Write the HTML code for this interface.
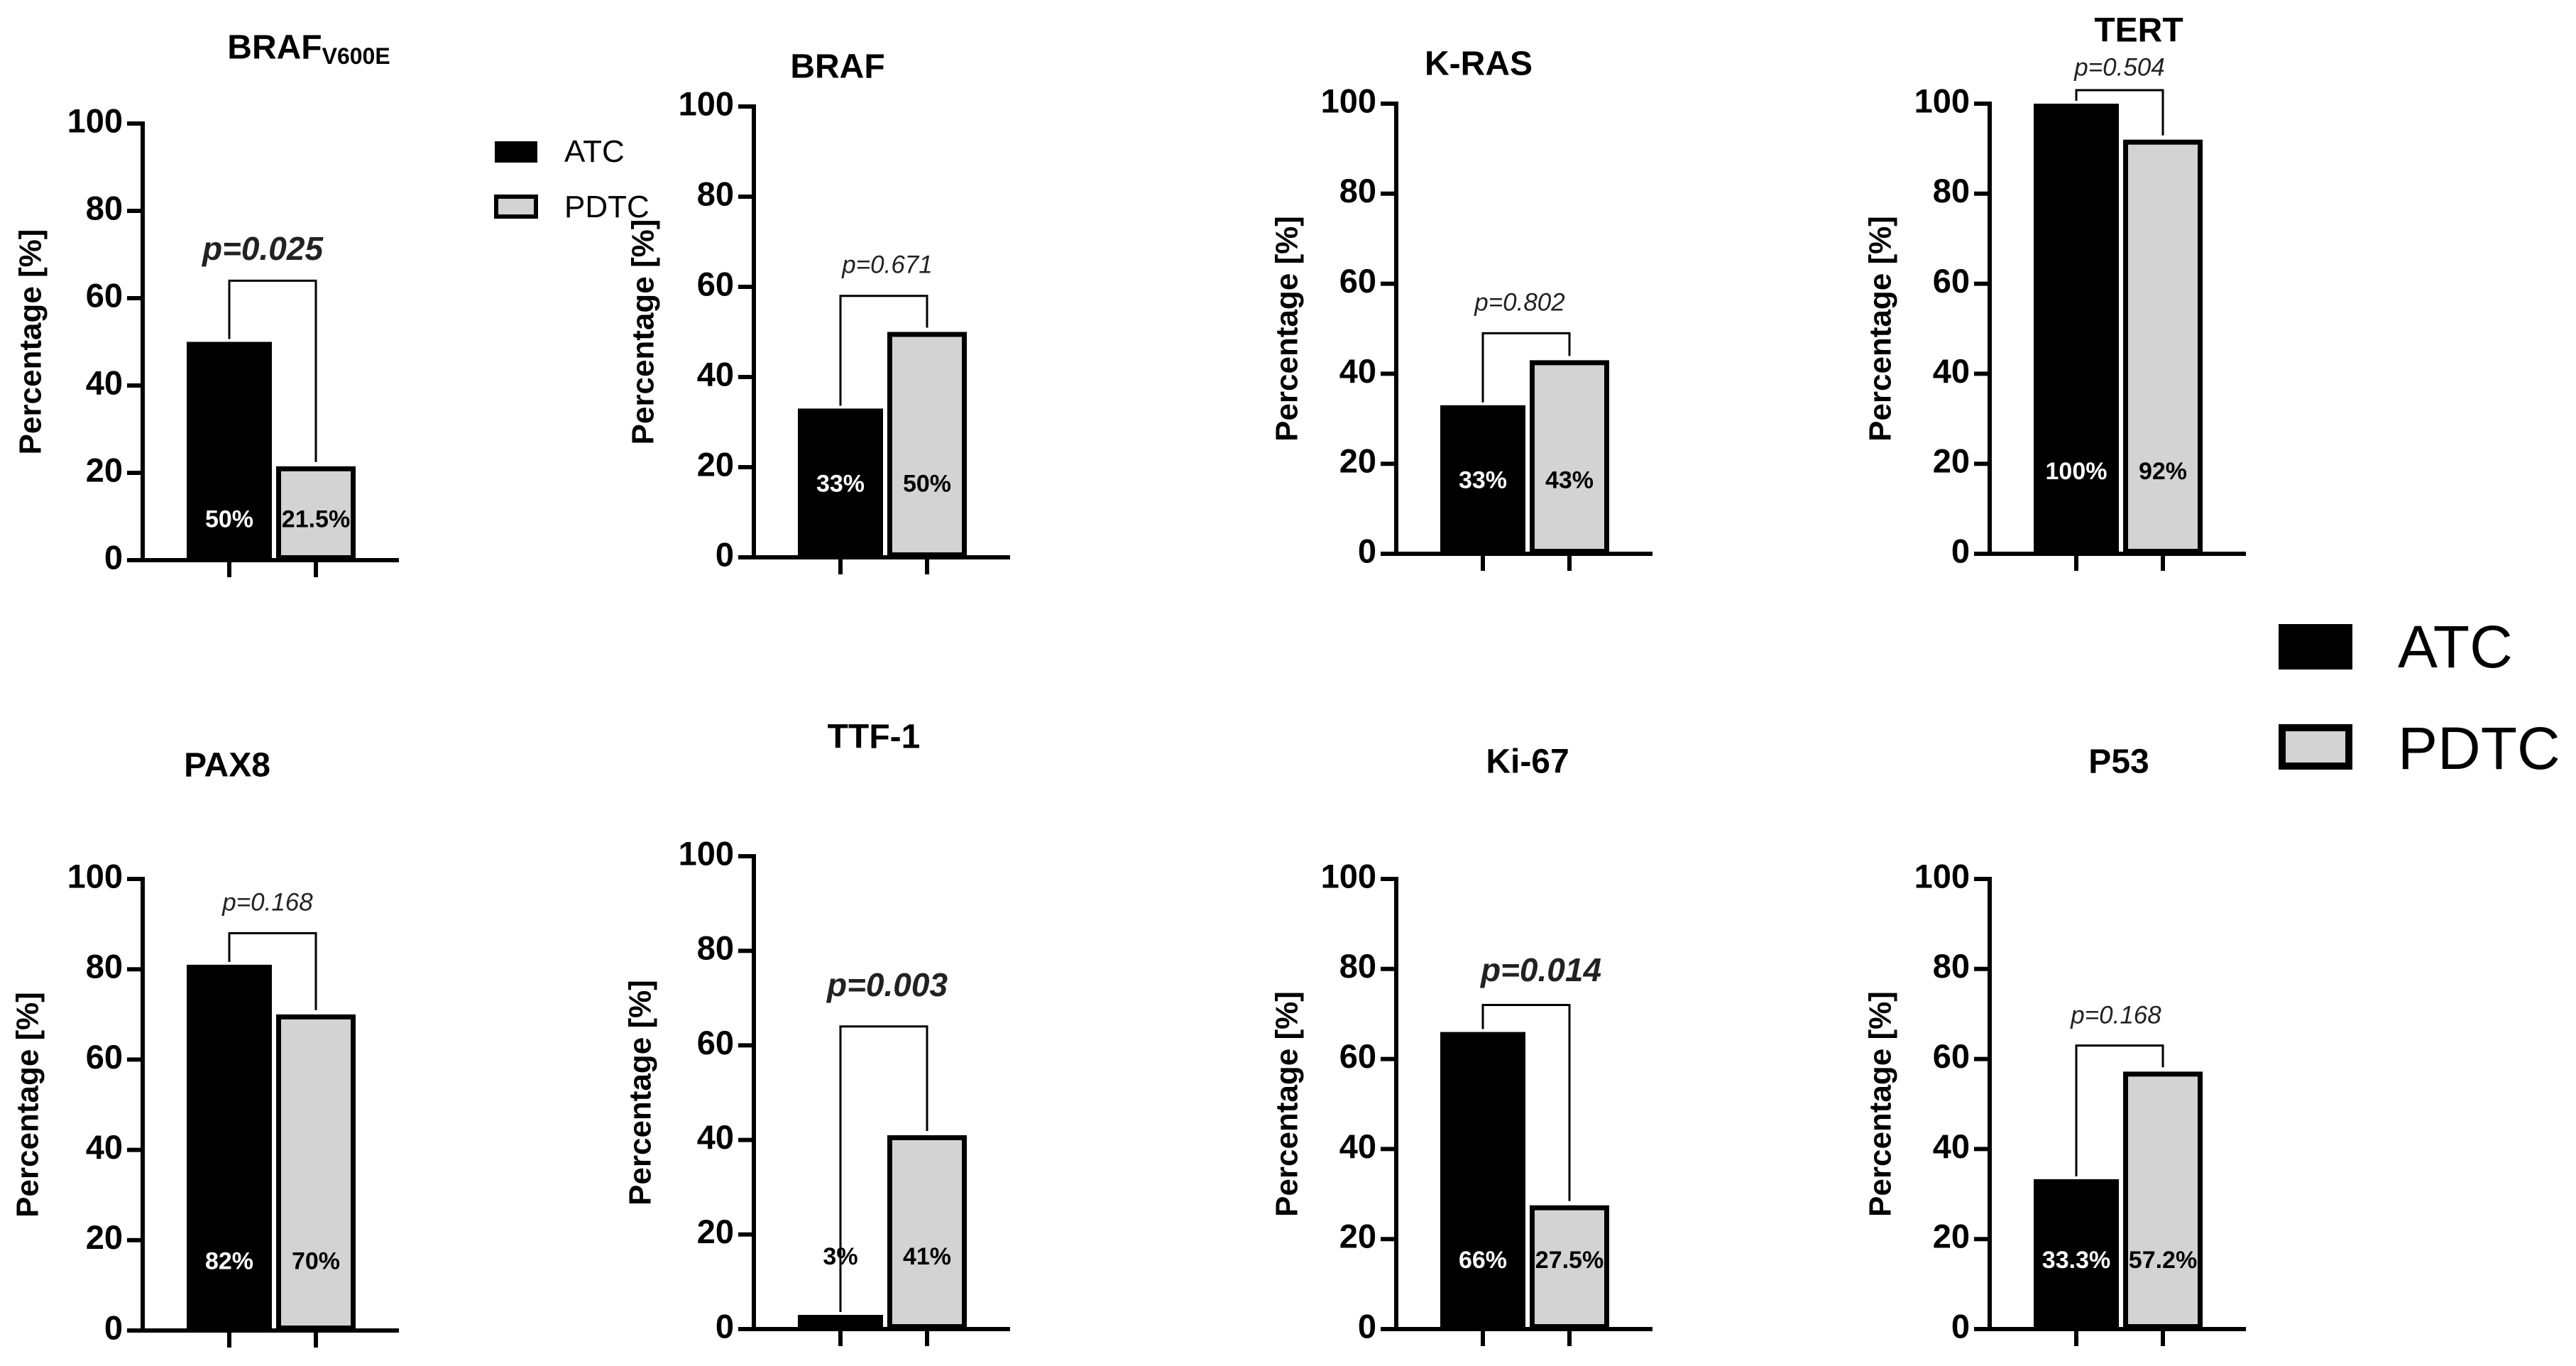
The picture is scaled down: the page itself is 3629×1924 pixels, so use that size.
<!DOCTYPE html>
<html><head><meta charset="utf-8"><style>
html,body{margin:0;padding:0;background:#fff;}
svg{display:block;font-family:"Liberation Sans",Arial,sans-serif;}
</style></head><body>
<svg id="fig" width="3629" height="1924" viewBox="0 0 3629 1924">
<g>
<rect x="697" y="199" width="60" height="30" fill="#000"/>
<text x="795" y="228" font-size="44">ATC</text>
<rect x="699" y="277" width="56" height="28" fill="#d3d3d3" stroke="#000" stroke-width="6"/>
<text x="795" y="306" font-size="44">PDTC</text>
</g>
<g>
<rect x="3210" y="879" width="104" height="64" fill="#000"/>
<text x="3378" y="940" font-size="84">ATC</text>
<rect x="3215" y="1025" width="94" height="54" fill="#d3d3d3" stroke="#000" stroke-width="10"/>
<text x="3378" y="1083" font-size="84">PDTC</text>
</g>
</svg>
<script>
const categories = ["BRAF_V600E","BRAF","K-RAS","TERT","PAX8","TTF-1","Ki-67","P53"];
const atcValues = [50,33,33,100,81,3,66,33.3];
const pdtcValues = [21.5,50,43,92,70,41,27.5,57.2];
const atcLabels = ["50%","33%","33%","100%","82%","3%","66%","33.3%"];
const pdtcLabels = ["21.5%","50%","43%","92%","70%","41%","27.5%","57.2%"];
const pValues = ["p=0.025","p=0.671","p=0.802","p=0.504","p=0.168","p=0.003","p=0.014","p=0.168"];
const pSignificant = [true,false,false,false,false,true,true,false];
const bracketLevels = [64,58,49,103,88,64,72,63];
const yTicks = [0,20,40,60,80,100];

// layout (pixels): axis x, y at 100, y at 0, title pos, ytitle x, p label pos, value-label level
const layout = [
 {ax:201,y100:174,y0:789,tx:435,ty:70,yt:46,px:370,py:354,lv:9},
 {ax:1062,y100:150,y0:785,tx:1180,ty:97,yt:909,px:1250,py:375,lv:16},
 {ax:1967,y100:146,y0:780,tx:2083,ty:93,yt:1816,px:2141,py:428,lv:16},
 {ax:2803,y100:146,y0:780,tx:3013,ty:46,yt:2652,px:2986,py:97,lv:18},
 {ax:201,y100:1238,y0:1874,tx:320,ty:1081,yt:42,px:377,py:1273,lv:15},
 {ax:1062,y100:1206,y0:1872,tx:1231,ty:1041,yt:905,px:1250,py:1391,lv:15},
 {ax:1967,y100:1238,y0:1872,tx:2152,ty:1076,yt:1816,px:2171,py:1370,lv:15},
 {ax:2803,y100:1238,y0:1872,tx:2985,ty:1076,yt:2652,px:2981,py:1432,lv:15}
];
const NS="http://www.w3.org/2000/svg";
const svg=document.getElementById('fig');
function mk(tag,attrs,parent,text){const e=document.createElementNS(NS,tag);for(const k in attrs)e.setAttribute(k,attrs[k]);if(text!==undefined)e.textContent=text;parent.appendChild(e);return e;}
categories.forEach((cat,i)=>{
  const L=layout[i];
  const y=v=>L.y0-(L.y0-L.y100)*v/100;
  const g=mk('g',{},svg);
  
  
  const t=mk('text',{x:L.tx,y:L.ty,'font-size':48,'font-weight':'bold','text-anchor':'middle','dominant-baseline':'middle'},g);
  
  
  if(cat==="BRAF_V600E"){t.textContent="BRAF";mk('tspan',{'font-size':32,dy:12},t,"V600E");}
  else t.textContent=cat;
  const cy=(L.y0+L.y100)/2;
  const yt=mk('text',{x:L.yt,y:cy,'font-size':44,'font-weight':'bold','text-anchor':'middle','dominant-baseline':'middle',transform:`rotate(-90 ${L.yt} ${cy})`},g,"Percentage [%]");
  
  
  const xA=L.ax+62, wA=120, xP=xA+wA+6, wP=112;
  const bA=mk('rect',{x:xA,y:y(atcValues[i]),width:wA,height:L.y0-y(atcValues[i]),fill:'#000'},g);
  
  
  const bP=mk('rect',{x:xP+3.5,y:y(pdtcValues[i])+3.5,width:wP-7,height:Math.max(0,L.y0-y(pdtcValues[i])-7),fill:'#d3d3d3',stroke:'#000','stroke-width':7},g);
  
  
  const ya=mk('line',{x1:L.ax,x2:L.ax,y1:L.y100-3,y2:L.y0+3,stroke:'#000','stroke-width':6},g);
  
  
  const xa=mk('line',{x1:L.ax-22,x2:L.ax+361,y1:L.y0,y2:L.y0,stroke:'#000','stroke-width':6},g);
  
  
  const cA=xA+wA/2, cP=xP+wP/2;
  [cA,cP].forEach(cx=>{const tk=mk('line',{x1:cx,x2:cx,y1:L.y0,y2:L.y0+24,stroke:'#000','stroke-width':6},g);
    
    });
  yTicks.forEach(v=>{
    const tk=mk('line',{x1:L.ax-22,x2:L.ax,y1:y(v),y2:y(v),stroke:'#000','stroke-width':6},g);
    
    
    const tl=mk('text',{x:L.ax-28,y:y(v),'font-size':47,'font-weight':'bold','text-anchor':'end','dominant-baseline':'middle'},g,String(v));
    
    
  });
  const aFill = atcValues[i] > L.lv+5 ? '#fff' : '#000';
  const la=mk('text',{x:cA,y:y(L.lv),'font-size':34,'font-weight':'bold',fill:aFill,'text-anchor':'middle','dominant-baseline':'middle'},g,atcLabels[i]);
  
  
  const lp=mk('text',{x:cP,y:y(L.lv),'font-size':34,'font-weight':'bold',fill:'#000','text-anchor':'middle','dominant-baseline':'middle'},g,pdtcLabels[i]);
  
  
  const by=y(bracketLevels[i]);
  const br=mk('polyline',{points:`${cA},${y(atcValues[i])-4} ${cA},${by} ${cP},${by} ${cP},${y(pdtcValues[i])-6}`,fill:'none',stroke:'#000','stroke-width':3},g);
  
  
  const sig=pSignificant[i];
  const pt=mk('text',{x:L.px,y:L.py,'font-size':sig?46:35,'font-weight':sig?'bold':'normal','font-style':'italic','text-anchor':'middle','dominant-baseline':'middle',fill:'#222'},g,pValues[i]);
  
  
});
</script>
</body></html>
